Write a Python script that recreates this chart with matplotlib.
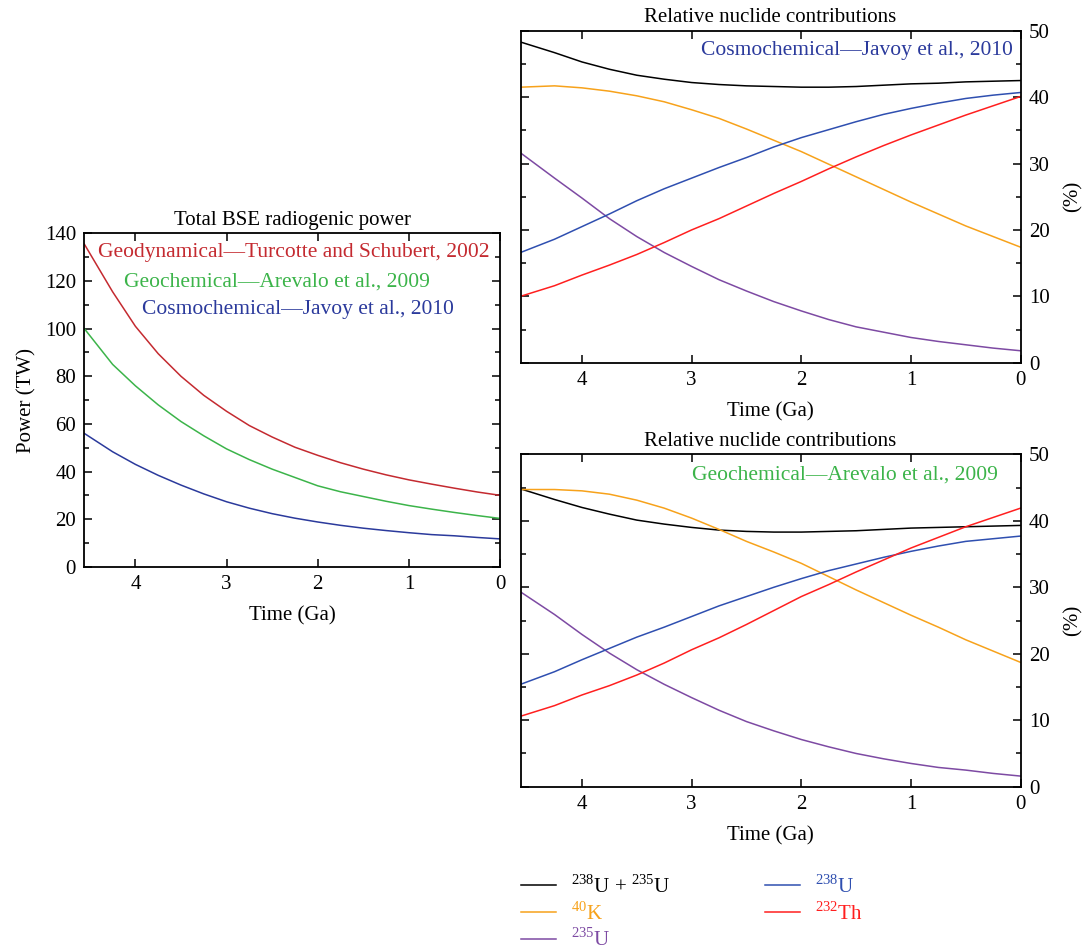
import matplotlib
matplotlib.use("agg")
import matplotlib.pyplot as plt
from matplotlib.ticker import MultipleLocator

plt.rcParams["font.family"] = ["Liberation Serif", "DejaVu Serif"]
plt.rcParams["mathtext.fontset"] = "custom"
plt.rcParams["mathtext.rm"] = "Liberation Serif"

# time before present (Ga)
time_ga = [4.56, 4.25, 4.0, 3.75, 3.5, 3.25, 3.0, 2.75, 2.5, 2.25,
           2.0, 1.75, 1.5, 1.25, 1.0, 0.75, 0.5, 0.25, 0.0]

# total BSE radiogenic power (TW)
power_geodyn = [135.5, 115.5, 101.0, 89.5, 80.0, 72.0, 65.3, 59.3, 54.5, 50.2,
                46.8, 43.7, 41.0, 38.6, 36.5, 34.7, 33.0, 31.4, 30.0]
power_geochem = [100.0, 85.0, 76.0, 68.0, 61.0, 55.0, 49.5, 45.0, 41.0, 37.5,
                 34.0, 31.5, 29.5, 27.5, 25.7, 24.2, 22.8, 21.5, 20.3]
power_cosmo = [56.0, 48.3, 43.0, 38.4, 34.3, 30.6, 27.3, 24.6, 22.3, 20.4,
               18.8, 17.4, 16.2, 15.2, 14.3, 13.5, 13.0, 12.3, 11.7]

# relative contributions (%), cosmochemical model
cosmo_u = [48.3, 46.7, 45.3, 44.2, 43.3, 42.7, 42.2, 41.9, 41.7, 41.6,
           41.5, 41.5, 41.6, 41.8, 42.0, 42.1, 42.3, 42.4, 42.5]
cosmo_k40 = [41.5, 41.7, 41.4, 40.9, 40.2, 39.3, 38.1, 36.8, 35.2, 33.5,
             31.8, 29.9, 28.0, 26.1, 24.2, 22.4, 20.6, 19.0, 17.4]
cosmo_u238 = [16.6, 18.6, 20.5, 22.4, 24.4, 26.2, 27.8, 29.4, 30.9, 32.5,
              33.9, 35.1, 36.3, 37.4, 38.3, 39.1, 39.8, 40.3, 40.7]
cosmo_th232 = [10.0, 11.6, 13.2, 14.7, 16.3, 18.1, 20.0, 21.7, 23.6, 25.5,
               27.3, 29.2, 31.0, 32.7, 34.3, 35.8, 37.3, 38.7, 40.1]
cosmo_u235 = [31.6, 27.8, 24.8, 21.7, 19.0, 16.6, 14.5, 12.5, 10.8, 9.2,
              7.8, 6.5, 5.4, 4.6, 3.8, 3.2, 2.7, 2.2, 1.8]

# relative contributions (%), geochemical model
geo_u = [44.8, 43.2, 42.0, 41.0, 40.1, 39.5, 39.0, 38.6, 38.4, 38.3,
         38.3, 38.4, 38.5, 38.7, 38.9, 39.0, 39.1, 39.2, 39.3]
geo_k40 = [44.7, 44.7, 44.5, 44.0, 43.1, 41.9, 40.4, 38.7, 36.9, 35.3,
           33.6, 31.6, 29.6, 27.7, 25.8, 24.0, 22.1, 20.4, 18.7]
geo_u238 = [15.4, 17.3, 19.1, 20.8, 22.5, 24.0, 25.6, 27.2, 28.6, 30.0,
            31.3, 32.5, 33.5, 34.5, 35.4, 36.2, 36.9, 37.3, 37.7]
geo_th232 = [10.6, 12.2, 13.8, 15.2, 16.8, 18.6, 20.6, 22.4, 24.4, 26.5,
             28.6, 30.4, 32.3, 34.1, 35.9, 37.5, 39.1, 40.5, 41.9]
geo_u235 = [29.3, 25.9, 22.9, 20.1, 17.6, 15.4, 13.4, 11.5, 9.8, 8.4,
            7.1, 6.0, 5.0, 4.2, 3.5, 2.9, 2.5, 2.0, 1.6]

nuclide_labels = [r"$^{\mathrm{238}}$U + $^{\mathrm{235}}$U", r"$^{\mathrm{40}}$K",
                  r"$^{\mathrm{235}}$U", r"$^{\mathrm{238}}$U", r"$^{\mathrm{232}}$Th"]
nuclide_colors = ["black", "#f7a21b", "#7d4aa3", "#2f4fb0", "#ff1f1f"]

c_red = "#c42a30"
c_green = "#3cb44a"
c_blue = "#2b3a9c"
FS = 15
FS_NOTE = 15.5


def style(ax, minor, right_labels=False):
    ax.set_xlim(4.56, 0)
    ax.xaxis.set_major_locator(MultipleLocator(1))
    ax.yaxis.set_minor_locator(MultipleLocator(minor))
    ax.tick_params(which="both", direction="in", top=True, right=True,
                   labelsize=FS, width=1.1)
    ax.tick_params(which="major", length=6, pad=6)
    ax.tick_params(which="minor", length=3.5)
    for s in ax.spines.values():
        s.set_linewidth(1.3)
    if right_labels:
        ax.tick_params(axis="y", labelleft=False, labelright=True)
        ax.yaxis.set_label_position("right")
        ax.set_ylabel("(%)", fontsize=FS, labelpad=10)
    ax.set_xlabel("Time (Ga)", fontsize=FS, labelpad=9)


fig = plt.figure(figsize=(10.87, 9.49), dpi=100)

# left: total power
ax_p = fig.add_axes([0.0776, 0.4028, 0.3824, 0.3512])
ax_p.plot(time_ga, power_geodyn, color=c_red, lw=1.1)
ax_p.plot(time_ga, power_geochem, color=c_green, lw=1.1)
ax_p.plot(time_ga, power_cosmo, color=c_blue, lw=1.1)
ax_p.set_ylim(0, 140)
ax_p.yaxis.set_major_locator(MultipleLocator(20))
style(ax_p, 10)
ax_p.set_ylabel("Power (TW)", fontsize=FS, labelpad=6)
ax_p.set_title("Total BSE radiogenic power", fontsize=FS, pad=6)
ax_p.text(0.033, 0.942, "Geodynamical\u2014Turcotte and Schubert, 2002",
          color=c_red, fontsize=FS_NOTE, transform=ax_p.transAxes, va="center")
ax_p.text(0.096, 0.855, "Geochemical\u2014Arevalo et al., 2009",
          color=c_green, fontsize=FS_NOTE, transform=ax_p.transAxes, va="center")
ax_p.text(0.139, 0.772, "Cosmochemical\u2014Javoy et al., 2010",
          color=c_blue, fontsize=FS_NOTE, transform=ax_p.transAxes, va="center")

# right top: cosmochemical contributions
ax_c = fig.add_axes([0.4789, 0.6178, 0.46, 0.3498])
for vals, col in zip([cosmo_u, cosmo_k40, cosmo_u235, cosmo_u238, cosmo_th232],
                     nuclide_colors):
    ax_c.plot(time_ga, vals, color=col, lw=1.1)
ax_c.set_ylim(0, 50)
style(ax_c, 5, right_labels=True)
ax_c.set_title("Relative nuclide contributions", fontsize=FS, pad=6)
ax_c.text(0.985, 0.942, "Cosmochemical\u2014Javoy et al., 2010", color=c_blue,
          fontsize=FS_NOTE, transform=ax_c.transAxes, ha="right", va="center")

# right bottom: geochemical contributions
ax_g = fig.add_axes([0.4789, 0.171, 0.46, 0.3503])
handles = []
for vals, col in zip([geo_u, geo_k40, geo_u235, geo_u238, geo_th232],
                     nuclide_colors):
    h, = ax_g.plot(time_ga, vals, color=col, lw=1.1)
    handles.append(h)
ax_g.set_ylim(0, 50)
style(ax_g, 5, right_labels=True)
ax_g.set_title("Relative nuclide contributions", fontsize=FS, pad=6)
ax_g.text(0.955, 0.938, "Geochemical\u2014Arevalo et al., 2009", color=c_green,
          fontsize=FS_NOTE, transform=ax_g.transAxes, ha="right", va="center")

fig.legend(handles, nuclide_labels, loc="upper left", bbox_to_anchor=(0.479, 0.078),
           ncol=2, frameon=False, fontsize=FS, labelcolor="linecolor",
           handlelength=1.7, handletextpad=0.7, columnspacing=4.55,
           labelspacing=0.2, borderpad=0, borderaxespad=0)

plt.savefig("out.png", dpi=100)
